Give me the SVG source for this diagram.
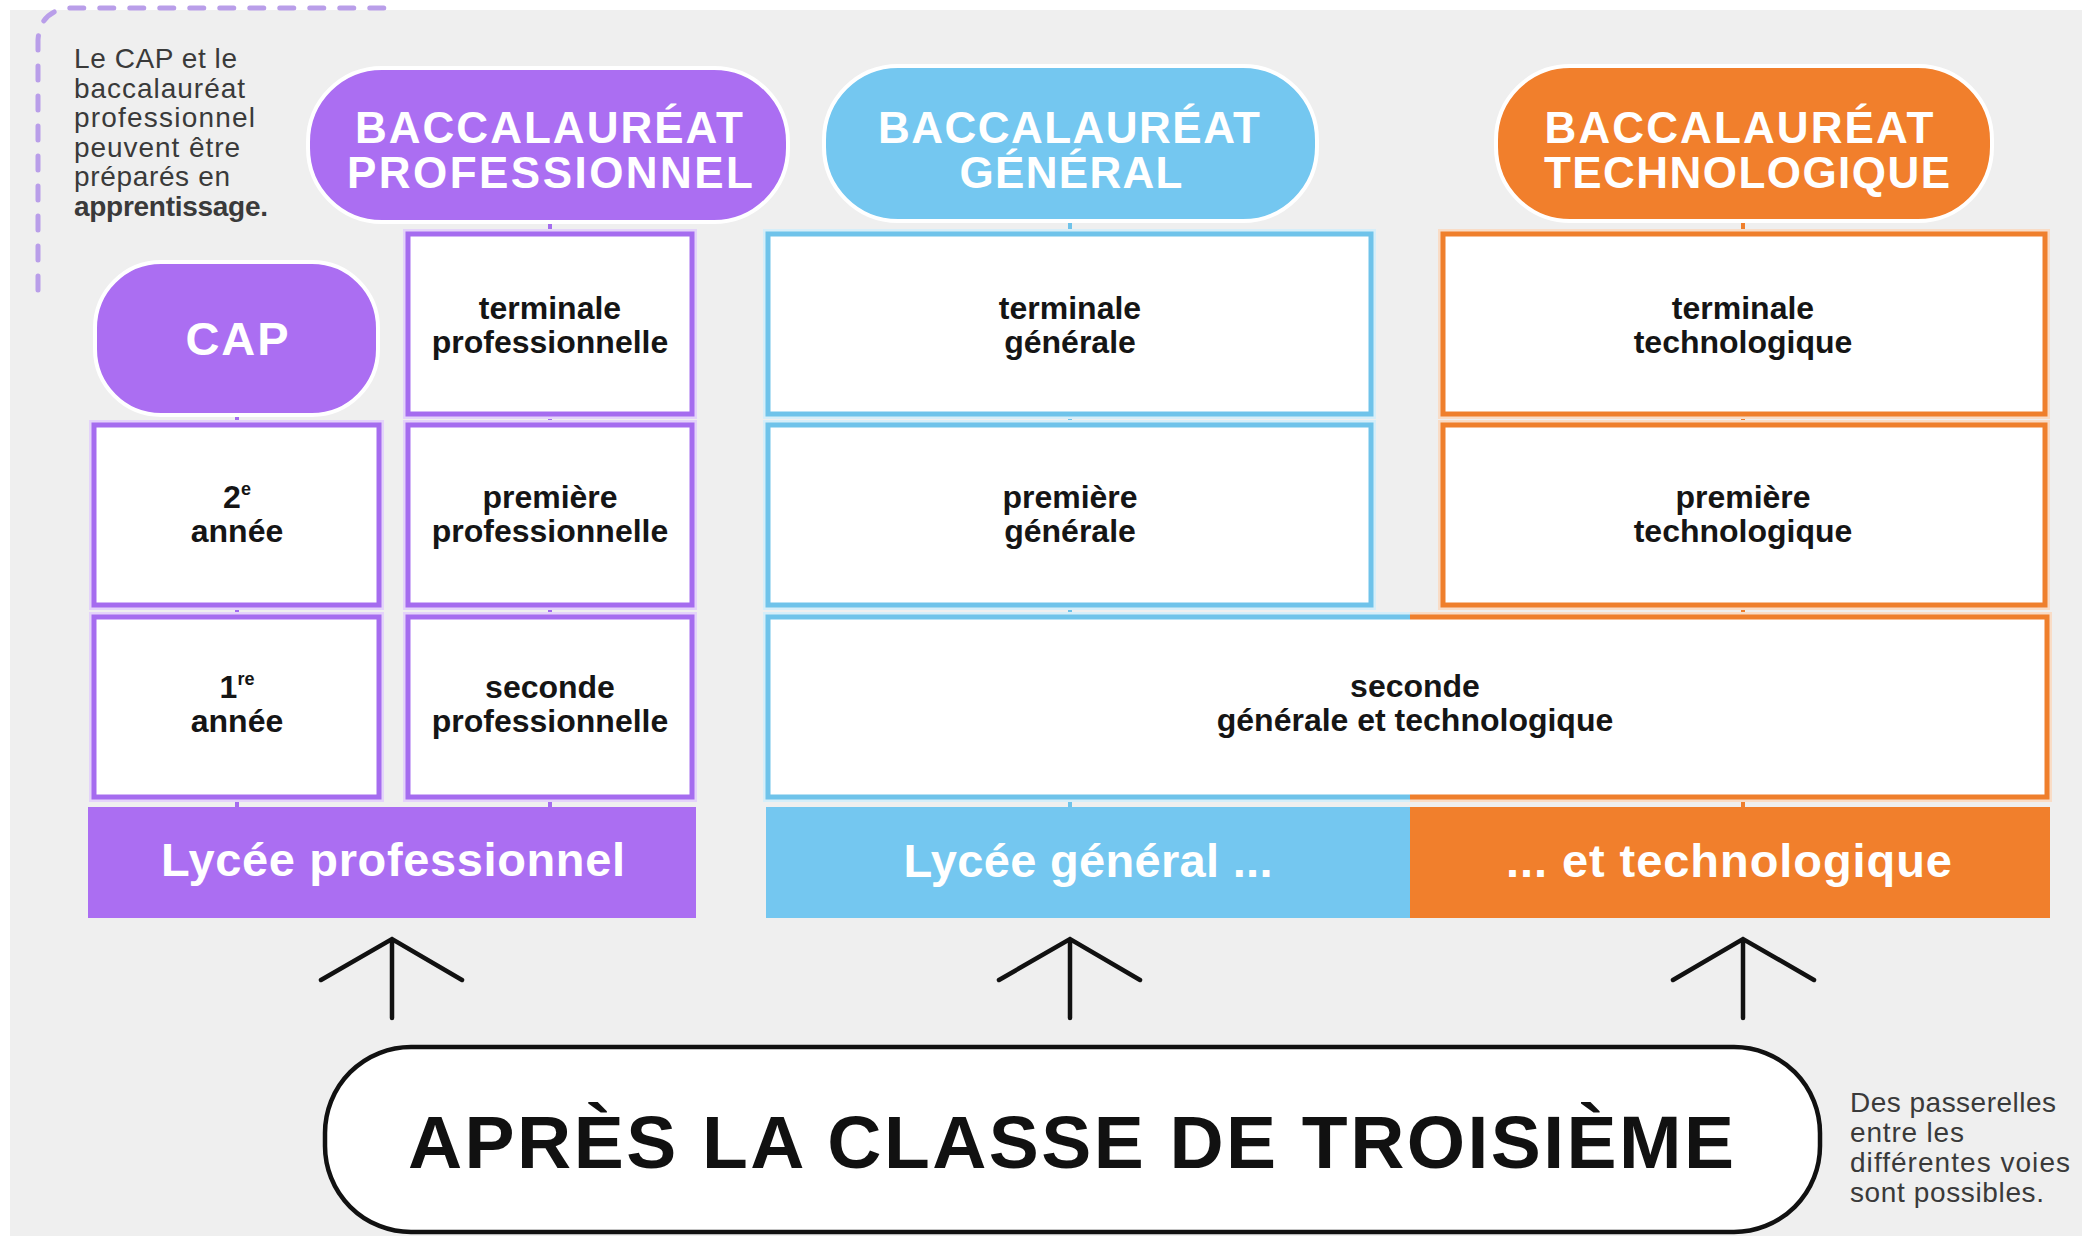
<svg xmlns="http://www.w3.org/2000/svg" width="2082" height="1236" viewBox="0 0 2082 1236">
  <style>
    text { font-family: 'Liberation Sans', Arial, sans-serif; }
    .title { font-size: 44px; font-weight: bold; fill: #ffffff; text-anchor: middle; }
    .box { fill: #ffffff; stroke-width: 5; }
    .halo { fill: none; stroke-width: 10; }
    .lbl { font-size: 32px; font-weight: bold; fill: #151515; text-anchor: middle; }
    .bar { font-size: 47px; font-weight: bold; fill: #ffffff; text-anchor: middle; }
    .note { font-size: 28px; fill: #3a3a3a; }
    .pu { stroke: #a56cef; }
    .bl { stroke: #6fc3ea; }
    .or { stroke: #ef7f2c; }
    .puh { stroke: #e4d3fa; }
    .blh { stroke: #d6eef9; }
    .orh { stroke: #f9dcc6; }
    .tick { stroke-width: 4; }
    .arrow { fill: none; stroke: #111111; stroke-width: 4.5; stroke-linecap: round; stroke-linejoin: miter; }
  </style>

  <rect x="0" y="0" width="2082" height="1236" fill="#ffffff"/>
  <rect x="10" y="10" width="2072" height="1226" fill="#efefef"/>

  <g id="note-apprentissage">
    <path d="M 38 290 V 40 Q 40 10 70 8 H 398" fill="none" stroke="#b99ee9" stroke-width="5" stroke-dasharray="14 16" stroke-linecap="round"/>
    <text class="note" x="74" y="68" textLength="163">Le CAP et le</text>
    <text class="note" x="74" y="97.5" textLength="171">baccalauréat</text>
    <text class="note" x="74" y="127" textLength="181">professionnel</text>
    <text class="note" x="74" y="156.5" textLength="166">peuvent être</text>
    <text class="note" x="74" y="186" textLength="156">préparés en</text>
    <text class="note" x="74" y="215.5" textLength="194" font-weight="bold" fill="#111111">apprentissage.</text>
  </g>

  <g id="connectors">
    <!-- CAP column -->
    <line class="tick pu" x1="237" y1="415" x2="237" y2="425"/>
    <line class="tick pu" x1="237" y1="605" x2="237" y2="617"/>
    <line class="tick pu" x1="237" y1="797" x2="237" y2="808"/>
    <!-- Pro column -->
    <line class="tick pu" x1="550" y1="221" x2="550" y2="234"/>
    <line class="tick pu" x1="550" y1="414" x2="550" y2="425"/>
    <line class="tick pu" x1="550" y1="605" x2="550" y2="617"/>
    <line class="tick pu" x1="550" y1="797" x2="550" y2="808"/>
    <!-- General column -->
    <line class="tick bl" x1="1070" y1="221" x2="1070" y2="234"/>
    <line class="tick bl" x1="1070" y1="414" x2="1070" y2="425"/>
    <line class="tick bl" x1="1070" y1="605" x2="1070" y2="617"/>
    <line class="tick bl" x1="1070" y1="797" x2="1070" y2="808"/>
    <!-- Techno column -->
    <line class="tick or" x1="1743" y1="221" x2="1743" y2="234"/>
    <line class="tick or" x1="1743" y1="414" x2="1743" y2="425"/>
    <line class="tick or" x1="1743" y1="605" x2="1743" y2="617"/>
    <line class="tick or" x1="1743" y1="797" x2="1743" y2="808"/>
    <!-- Up arrows -->
    <path class="arrow" d="M 392 1018 V 939 M 321 980 L 392 939 L 462 980"/>
    <path class="arrow" d="M 1070 1018 V 939 M 999 980 L 1070 939 L 1140 980"/>
    <path class="arrow" d="M 1743 1018 V 939 M 1673 980 L 1743 939 L 1814 980"/>
  </g>

  <g id="bac-pro">
    <rect x="308" y="68" width="480" height="154" rx="74" fill="#ab6ef2" stroke="#ffffff" stroke-width="4"/>
    <text class="title" x="549" y="143" textLength="388">BACCALAURÉAT</text>
    <text class="title" x="550" y="188" textLength="406">PROFESSIONNEL</text>
  </g>

  <g id="bac-general">
    <rect x="824" y="66" width="493" height="155" rx="74" fill="#74c7f0" stroke="#ffffff" stroke-width="4"/>
    <text class="title" x="1069" y="143" textLength="382">BACCALAURÉAT</text>
    <text class="title" x="1071" y="188" textLength="223">GÉNÉRAL</text>
  </g>

  <g id="bac-techno">
    <rect x="1496" y="66" width="496" height="155" rx="74" fill="#f17f2c" stroke="#ffffff" stroke-width="4"/>
    <text class="title" x="1739" y="143" textLength="389">BACCALAURÉAT</text>
    <text class="title" x="1747" y="188" textLength="406">TECHNOLOGIQUE</text>
  </g>

  <g id="cap">
    <rect x="95" y="262" width="283" height="153" rx="66" fill="#ab6ef2" stroke="#ffffff" stroke-width="4"/>
    <text x="237" y="355" font-size="47" font-weight="bold" fill="#ffffff" text-anchor="middle" textLength="103">CAP</text>
  </g>

  <g id="cap-2e-annee">
    <rect class="halo puh" x="94" y="425" width="285" height="180"/>
    <rect class="box pu" x="94" y="425" width="285" height="180"/>
    <text class="lbl" x="237" y="508">2<tspan font-size="18" dy="-13">e</tspan></text>
    <text class="lbl" x="237" y="542">année</text>
  </g>

  <g id="cap-1re-annee">
    <rect class="halo puh" x="94" y="617" width="285" height="180"/>
    <rect class="box pu" x="94" y="617" width="285" height="180"/>
    <text class="lbl" x="237" y="698">1<tspan font-size="18" dy="-13">re</tspan></text>
    <text class="lbl" x="237" y="732">année</text>
  </g>

  <g id="terminale-pro">
    <rect class="halo puh" x="408" y="234" width="284" height="180"/>
    <rect class="box pu" x="408" y="234" width="284" height="180"/>
    <text class="lbl" x="550" y="319">terminale</text>
    <text class="lbl" x="550" y="353">professionnelle</text>
  </g>

  <g id="premiere-pro">
    <rect class="halo puh" x="408" y="425" width="284" height="180"/>
    <rect class="box pu" x="408" y="425" width="284" height="180"/>
    <text class="lbl" x="550" y="508">première</text>
    <text class="lbl" x="550" y="542">professionnelle</text>
  </g>

  <g id="seconde-pro">
    <rect class="halo puh" x="408" y="617" width="284" height="180"/>
    <rect class="box pu" x="408" y="617" width="284" height="180"/>
    <text class="lbl" x="550" y="698">seconde</text>
    <text class="lbl" x="550" y="732">professionnelle</text>
  </g>

  <g id="terminale-generale">
    <rect class="halo blh" x="768" y="234" width="603" height="180"/>
    <rect class="box bl" x="768" y="234" width="603" height="180"/>
    <text class="lbl" x="1070" y="319">terminale</text>
    <text class="lbl" x="1070" y="353">générale</text>
  </g>

  <g id="premiere-generale">
    <rect class="halo blh" x="768" y="425" width="603" height="180"/>
    <rect class="box bl" x="768" y="425" width="603" height="180"/>
    <text class="lbl" x="1070" y="508">première</text>
    <text class="lbl" x="1070" y="542">générale</text>
  </g>

  <g id="terminale-techno">
    <rect class="halo orh" x="1443" y="234" width="602" height="180"/>
    <rect class="box or" x="1443" y="234" width="602" height="180"/>
    <text class="lbl" x="1743" y="319">terminale</text>
    <text class="lbl" x="1743" y="353">technologique</text>
  </g>

  <g id="premiere-techno">
    <rect class="halo orh" x="1443" y="425" width="602" height="180"/>
    <rect class="box or" x="1443" y="425" width="602" height="180"/>
    <text class="lbl" x="1743" y="508">première</text>
    <text class="lbl" x="1743" y="542">technologique</text>
  </g>

  <g id="seconde-gt">
    <path class="halo blh" d="M 1410 617 H 768 V 797 H 1410"/>
    <path class="halo orh" d="M 1410 617 H 2047 V 797 H 1410"/>
    <rect x="768" y="617" width="1279" height="180" fill="#ffffff"/>
    <path d="M 1410 617 H 768 V 797 H 1410" fill="none" stroke="#6fc3ea" stroke-width="5"/>
    <path d="M 1410 617 H 2047 V 797 H 1410" fill="none" stroke="#ef7f2c" stroke-width="5"/>
    <text class="lbl" x="1415" y="697">seconde</text>
    <text class="lbl" x="1415" y="731">générale et technologique</text>
  </g>

  <g id="lycee-pro">
    <rect x="88" y="807" width="608" height="111" fill="#ab6ef2"/>
    <text class="bar" x="393" y="876" textLength="464">Lycée professionnel</text>
  </g>

  <g id="lycee-general">
    <rect x="766" y="807" width="644" height="111" fill="#74c7f0"/>
    <text class="bar" x="1088" y="877" textLength="369">Lycée général ...</text>
  </g>

  <g id="lycee-techno">
    <rect x="1410" y="807" width="640" height="111" fill="#f17f2c"/>
    <text class="bar" x="1729" y="877" textLength="446">... et technologique</text>
  </g>

  <g id="apres-troisieme">
    <rect x="325" y="1047" width="1495" height="185" rx="86" fill="#ffffff" stroke="#111111" stroke-width="4.5"/>
    <text x="1071" y="1168" font-size="75" font-weight="bold" fill="#111111" text-anchor="middle" textLength="1326">APRÈS LA CLASSE DE TROISIÈME</text>
  </g>

  <g id="note-passerelles">
    <text class="note" x="1850" y="1112" textLength="206">Des passerelles</text>
    <text class="note" x="1850" y="1142" textLength="114">entre les</text>
    <text class="note" x="1850" y="1172" textLength="220">différentes voies</text>
    <text class="note" x="1850" y="1202" textLength="194">sont possibles.</text>
  </g>
</svg>
